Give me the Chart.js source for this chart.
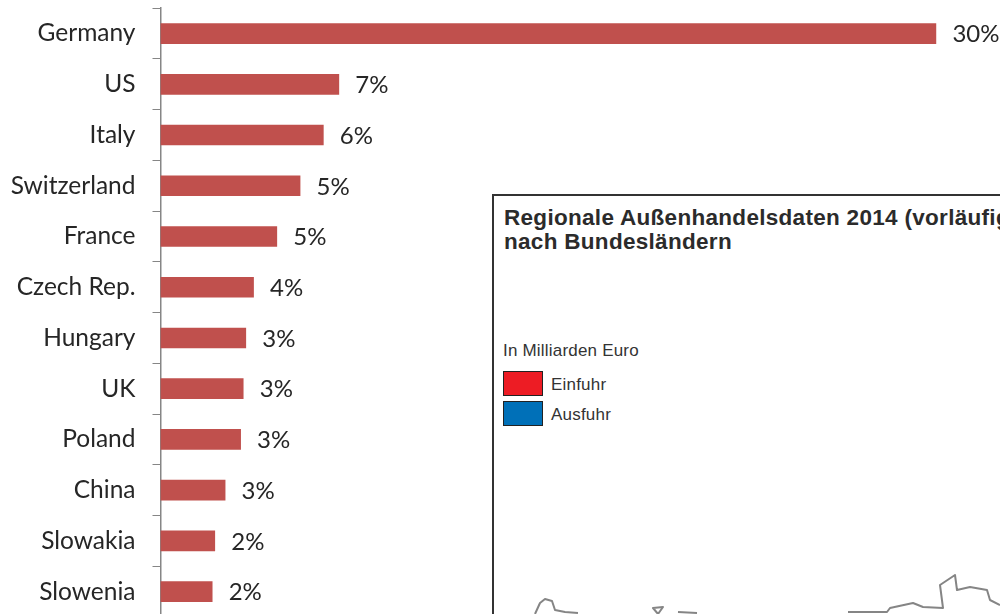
<!DOCTYPE html>
<html>
<head>
<meta charset="utf-8">
<title>Chart</title>
<script src="https://cdn.jsdelivr.net/npm/chart.js@4"></script>
<style>
  html,body{margin:0;padding:0;background:#fff;overflow:hidden;width:1000px;height:614px}
  #wrap{position:relative;width:1000px;height:614px;overflow:hidden}
  #c{position:absolute;left:0;top:0}
  /* inset map box, cut off by the picture edge like in the source */
  #box{position:absolute;left:492px;top:194px;width:600px;height:500px;border:2px solid #333;background:#fff;box-sizing:border-box;font-family:"Liberation Sans",Arial,sans-serif;color:#2b2b2b}
  #box .t{position:absolute;left:10px;top:10px;font-size:22.5px;letter-spacing:.3px;font-weight:bold;line-height:24px;white-space:nowrap}
  #box .s{position:absolute;left:9px;top:145px;font-size:17px;letter-spacing:.2px;white-space:nowrap;color:#333}
  #box .k{position:absolute;left:9px;width:40px;height:25px;box-sizing:border-box;border:1px solid #222}
  #box .l{position:absolute;left:57px;font-size:17px;letter-spacing:.2px;white-space:nowrap;color:#333}
  #map{position:absolute;left:0;top:0;pointer-events:none;filter:blur(.5px)}
</style>
</head>
<body>
<div id="wrap">
  <canvas id="c" width="1000" height="617"></canvas>
  <div id="box">
    <div class="t">Regionale Außenhandelsdaten 2014 (vorläufig)<br>nach Bundesländern</div>
    <div class="s">In Milliarden Euro</div>
    <div class="k" style="top:175px;background:#ed1c24"></div><div class="l" style="top:179px">Einfuhr</div>
    <div class="k" style="top:205px;background:#0070b8"></div><div class="l" style="top:209px">Ausfuhr</div>
  </div>
  <svg id="map" width="1000" height="614" fill="none" stroke="#858585" stroke-width="2" stroke-linejoin="round">
    <path d="M535 614L540 603L545 599L552 601L555 610L565 612L578 613"/>
    <path d="M658 614L653 608L663 607L658 614"/>
    <path d="M678 612L697 613"/>
    <path d="M848 612L887 612L890 608L913 603L923 607L943 608L940 585L955 575L957 590L970 587L987 590L990 600L1000 605"/>
  </svg>
</div>
<script>
// share of trade per partner country, in percent
const countries = ['Germany','US','Italy','Switzerland','France','Czech Rep.','Hungary','UK','Poland','China','Slowakia','Slowenia'];
const shares = [30.0,6.9,6.3,5.4,4.5,3.6,3.3,3.2,3.1,2.5,2.1,2.0];
const shareLabels = ['30%','7%','6%','5%','5%','4%','3%','3%','3%','3%','2%','2%'];

const BAR_COLOR = '#c0504d';
const TEXT_COLOR = '#262626';
const FONT = 'Lato, "Open Sans", sans-serif';

// numbers at the end of the bars
const barLabels = {
  id:'barLabels',
  afterDatasetsDraw(chart){
    const ctx = chart.ctx;
    ctx.save();
    ctx.font = '24px '+FONT;
    ctx.fillStyle = TEXT_COLOR;
    ctx.textAlign = 'left';
    ctx.textBaseline = 'middle';
    chart.getDatasetMeta(0).data.forEach((bar,i)=>{
      ctx.fillText(shareLabels[i], bar.x+16.5, bar.y+1);
    });
    ctx.restore();
  }
};

new Chart(document.getElementById('c').getContext('2d'),{
  type:'bar',
  data:{labels:countries,datasets:[{data:shares,backgroundColor:BAR_COLOR,barThickness:20}]},
  options:{
    indexAxis:'y',responsive:false,animation:false,
    layout:{padding:{top:8.2,left:0,right:0,bottom:0}},
    plugins:{legend:{display:false},tooltip:{enabled:false}},
    scales:{
      x:{display:false,min:0,max:32.48,grid:{display:false}},
      y:{
        afterFit(s){ s.width = 160.5; s.paddingTop = 0; s.paddingBottom = 0; },
        border:{color:'#868686',width:1.5},
        grid:{offset:true,drawOnChartArea:false,tickLength:8,color:'#868686',tickWidth:1},
        ticks:{color:TEXT_COLOR,padding:17,autoSkip:false,font:{family:FONT,size:24.5}}
      }
    }
  },
  plugins:[barLabels]
});
</script>
</body>
</html>
